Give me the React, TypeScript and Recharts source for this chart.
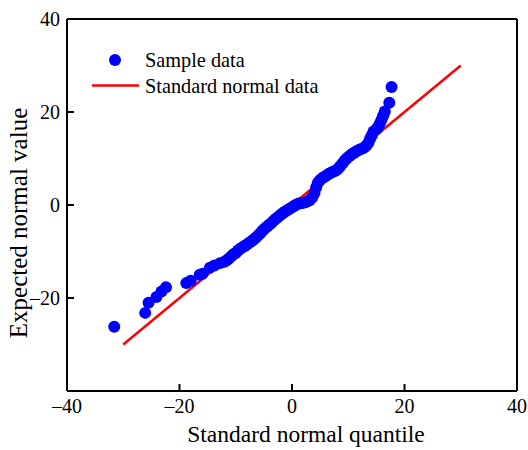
import React from 'react';
import {
  ScatterChart,
  Scatter,
  XAxis,
  YAxis,
  ReferenceLine,
  Legend,
} from 'recharts';

// Q-Q plot: theoretical quantile (x) vs sample value (y)
const quantileX = [
  -31.6, -26.1, -25.5, -24.1, -23.2, -22.4, -18.8, -18.0, -16.4, -15.9, -14.6, -13.8, -12.8,
  -12.0, -11.6, -11.2, -10.8, -10.4, -10.0, -9.6, -9.2, -8.8, -8.4, -8.0, -7.6, -7.2, -6.8,
  -6.4, -6.0, -5.6, -5.2, -4.8, -4.4, -4.0, -3.6, -3.2, -2.8, -2.4, -2.0, -1.6, -1.2, -0.8,
  -0.4, 0.0, 0.4, 0.8, 1.2, 1.6, 2.0, 2.4, 2.8, 3.2, 3.6, 4.0, 4.3, 4.6, 5.0, 5.4, 5.8, 6.2,
  6.6, 7.0, 7.4, 7.8, 8.2, 8.6, 9.0, 9.4, 9.8, 10.2, 10.6, 11.0, 11.4, 11.8, 12.2, 12.6, 13.0,
  13.3, 13.6, 13.9, 14.2, 14.5, 15.0, 15.3, 15.6, 15.9, 16.2, 16.5, 17.3, 17.7,
];
const sampleY = [
  -26.2, -23.2, -21.0, -19.8, -18.6, -17.7, -16.8, -16.3, -15.0, -14.8, -13.5, -13.0, -12.5,
  -12.2, -11.9, -11.5, -11.0, -10.6, -10.3, -9.8, -9.4, -9.1, -8.8, -8.5, -8.1, -7.8, -7.4,
  -7.0, -6.5, -6.0, -5.5, -5.0, -4.6, -4.2, -3.8, -3.3, -2.9, -2.5, -2.1, -1.7, -1.4, -1.1,
  -0.8, -0.5, -0.2, 0.1, 0.3, 0.4, 0.5, 0.6, 0.8, 1.1, 1.6, 2.6, 3.8, 4.8, 5.4, 5.8, 6.1, 6.4,
  6.7, 7.0, 7.2, 7.4, 7.8, 8.4, 9.0, 9.6, 10.1, 10.5, 10.9, 11.2, 11.5, 11.8, 12.0, 12.2, 12.5,
  12.9, 13.4, 14.3, 15.0, 15.8, 16.3, 16.8, 17.5, 18.3, 19.2, 20.1, 22.0, 25.4,
];

// standard normal reference line end points
const normalX = [-30, 30];
const normalY = [-30, 30];

const axisTicks = [-40, -20, 0, 20, 40];

const sampleData = quantileX.map((x, i) => ({ x, y: sampleY[i] }));

const FONT = '"Liberation Serif", "Times New Roman", serif';

const fmt = (v: number) => (v < 0 ? `\u2013${Math.abs(v)}` : `${v}`);

const XTitle = (props: any) => {
  const vb = props.viewBox || { x: 67, y: 391, width: 450, height: 59 };
  const x = vb.x + vb.width / 2 + 14;
  const y = vb.y + vb.height - 8;
  return (
    <text x={x} y={y} textAnchor="middle" fill="#000" fontSize={23.5} fontFamily={FONT}>
      Standard normal quantile
    </text>
  );
};

const YTitle = (props: any) => {
  const vb = props.viewBox || { x: 0, y: 19, width: 67, height: 372 };
  const x = vb.x + 27;
  const y = vb.y + vb.height / 2 + 18;
  return (
    <text
      x={x}
      y={y}
      transform={`rotate(-90, ${x}, ${y})`}
      textAnchor="middle"
      fill="#000"
      fontSize={25}
      fontFamily={FONT}
    >
      Expected normal value
    </text>
  );
};

const LegendBox = () => (
  <svg width={340} height={100} style={{ display: 'block' }}>
    <circle cx={35} cy={30} r={6} fill="#0000ff" />
    <text x={65} y={37} fontSize={20.3} fontFamily={FONT} fill="#000">Sample data</text>
    <line x1={12} x2={59} y1={55.5} y2={55.5} stroke="#ff0000" strokeWidth={2.5} />
    <text x={65} y={63} fontSize={20.3} fontFamily={FONT} fill="#000">Standard normal data</text>
  </svg>
);

export default function App() {
  const tickStyle = { fill: '#000', fontSize: 20, fontFamily: FONT };
  return (
    <div style={{ position: 'absolute', left: 0, top: 0 }}>
      <ScatterChart width={528} height={450} margin={{ top: 19, right: 11, bottom: 0, left: 0 }}>
        <XAxis
          type="number"
          dataKey="x"
          domain={[-40, 40]}
          ticks={axisTicks}
          tickFormatter={fmt}
          height={59}
          tickSize={-7}
          tickMargin={15}
          axisLine={{ stroke: '#000', strokeWidth: 2 }}
          tickLine={{ stroke: '#000', strokeWidth: 2 }}
          tick={tickStyle}
          label={{ content: XTitle }}
          allowDataOverflow
        />
        <YAxis
          type="number"
          dataKey="y"
          domain={[-40, 40]}
          ticks={axisTicks}
          tickFormatter={(v: number) => (v === -40 ? '' : fmt(v))}
          width={67}
          tickSize={-7}
          tickMargin={14}
          axisLine={{ stroke: '#000', strokeWidth: 2 }}
          tickLine={{ stroke: '#000', strokeWidth: 2 }}
          tick={tickStyle}
          label={{ content: YTitle }}
          allowDataOverflow
        />
        <ReferenceLine y={40} stroke="#000" strokeWidth={2} />
        <ReferenceLine x={40} stroke="#000" strokeWidth={2} />
        <Scatter
          data={sampleData}
          fill="#0000ff"
          isAnimationActive={false}
          shape={(p: any) => <circle cx={p.cx} cy={p.cy} r={6} fill="#0000ff" />}
        />
        <ReferenceLine
          segment={[
            { x: normalX[0], y: normalY[0] },
            { x: normalX[1], y: normalY[1] },
          ]}
          stroke="#ff0000"
          strokeWidth={2.5}
        />
        <Legend
          layout="horizontal"
          verticalAlign="middle"
          align="center"
          content={LegendBox}
          wrapperStyle={{ position: 'absolute', left: 80, top: 30, width: 340, height: 100 }}
        />
      </ScatterChart>
    </div>
  );
}
